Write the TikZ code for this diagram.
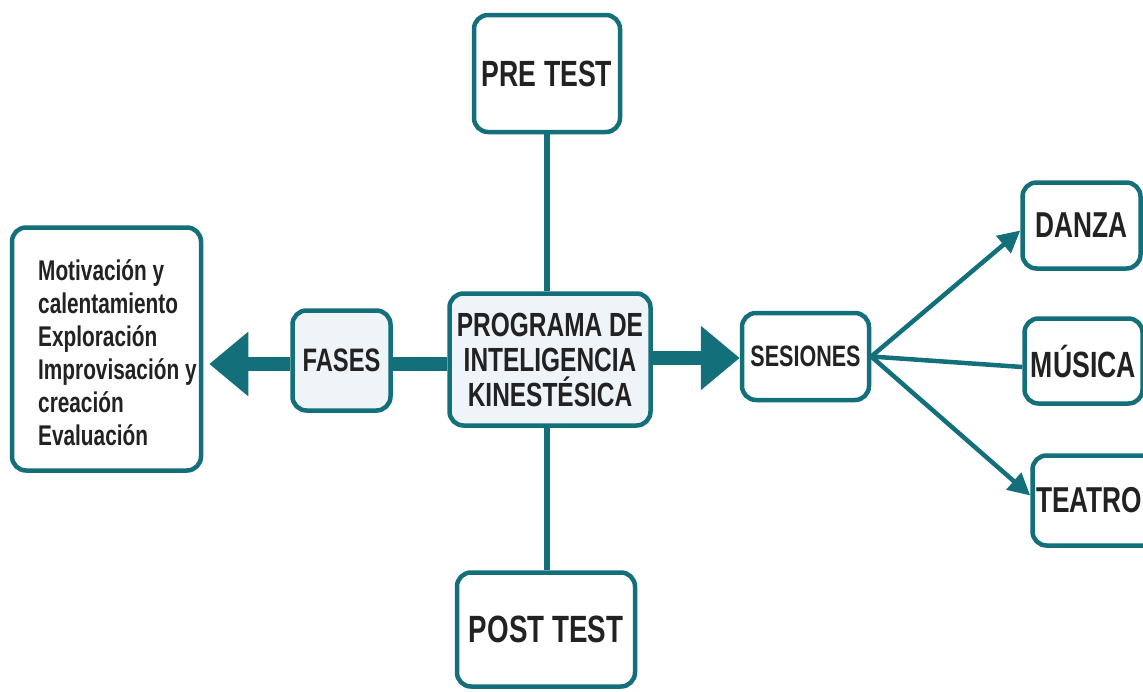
\documentclass[tikz,border=0pt]{standalone}
\usepackage{fontspec}
\setmainfont[FakeStretch=0.73]{Liberation Sans}
\usetikzlibrary{arrows.meta}
\definecolor{tealc}{HTML}{13707A}
\definecolor{txtc}{HTML}{222222}
\definecolor{softc}{HTML}{EEF4F8}
\newcommand{\fs}[2]{\bfseries\fontsize{#1}{#2}\selectfont}
\begin{document}
\begin{tikzpicture}[x=1pt,y=-1pt,
  box/.style={draw=tealc, line width=4.5pt, rounded corners=14pt, fill=white,
    text=txtc, font=\bfseries, align=center, inner sep=0pt},
  stem/.style={draw=tealc, line width=6pt},
  bigarrow/.style={draw=tealc, line width=14pt, -{Triangle[length=39pt,width=62pt]}},
  fan/.style={draw=tealc, line width=4.5pt},
  fanarrow/.style={fan, -{Triangle[length=22pt,width=22pt]}}]
\useasboundingbox (0,0) rectangle (1143,691);
\fill[white] (0,0) rectangle (1143,691);

\node[box, minimum width=146pt, minimum height=117pt, font=\fs{36.5}{40}] (pre) at (547,73.5) {PRE TEST};
\node[box, fill=softc, minimum width=201pt, minimum height=132pt, font=\fs{33.5}{35}] (prog) at (550,359.5) {PROGRAMA DE\\INTELIGENCIA\\KINESTÉSICA};
\node[box, minimum width=178pt, minimum height=114pt, font=\fs{38}{42}] (post) at (546,629.5) {POST TEST};
\node[box, fill=softc, minimum width=98pt, minimum height=100pt, font=\fs{32.5}{36}] (fases) at (341.5,360.5) {FASES};
\node[box, minimum width=189pt, minimum height=243pt] (left) at (106.5,349) {};
\node[text=txtc, font=\fs{28.5}{33}, align=left, anchor=west, inner sep=0pt] (lefttext) at (38,353) {Motivación y\\calentamiento\\Exploración\\Improvisación y\\creación\\Evaluación};
\node[box, minimum width=127pt, minimum height=87pt, font=\fs{29.5}{32}] (ses) at (805.5,356.5) {SESIONES};
\node[box, minimum width=118pt, minimum height=86pt, font=\fs{36}{40}] (danza) at (1081.5,225.5) {DANZA};
\node[box, minimum width=118pt, minimum height=85pt, font=\fs{36.5}{40}] (musica) at (1083.5,361) {MÚSICA};
\node[box, minimum width=125pt, minimum height=90pt] (teatro) at (1095,500.5) {};
\node[text=txtc, font=\fs{36}{40}, anchor=west, inner sep=0pt] (teatrotext) at (1036,500.5) {TEATRO};

\draw[stem] (pre.south) -- (pre.south |- prog.north);
\draw[stem] (pre.south |- prog.south) -- (pre.south |- post.north);

\draw[draw=tealc, line width=14pt] (prog.west |- 0,364) -- (fases.east |- 0,364);
\draw[bigarrow, shorten >=6pt] (fases.west |- 0,364) -- (left.east |- 0,364);
\draw[bigarrow] (prog.east |- 0,358) -- (ses.west |- 0,358);

\draw[fanarrow] (ses.east) -- ([yshift=-5pt]danza.west);
\draw[fan] (ses.east) -- ([yshift=-6pt]musica.west);
\draw[fanarrow] (ses.east) -- ([yshift=5pt]teatro.west);
\end{tikzpicture}
\end{document}
